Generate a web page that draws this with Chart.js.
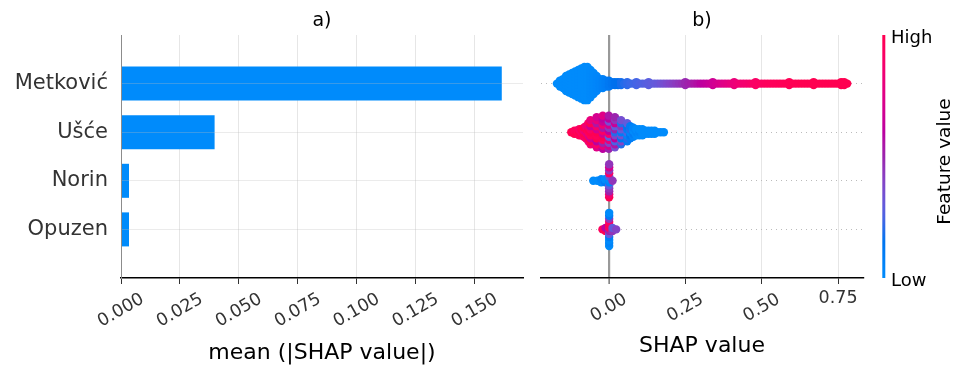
<!DOCTYPE html>
<html>
<head>
<meta charset="utf-8">
<title>SHAP summary</title>
<script src="https://cdn.jsdelivr.net/npm/chart.js@4.4.1/dist/chart.umd.min.js"></script>
<style>
  html, body { margin: 0; padding: 0; background: #fff; }
  #wrap { position: relative; width: 956px; height: 367px; }
  canvas { position: absolute; left: 0; top: 0; }
</style>
</head>
<body>
<div id="wrap">
  <canvas id="bar" width="956" height="367"></canvas>
  <canvas id="swarm" width="956" height="367"></canvas>
</div>
<script>
var FONT = "'DejaVu Sans', 'Liberation Sans', sans-serif";

// a) mean |SHAP| per feature, top to bottom
var features = ['Metković', 'Ušće', 'Norin', 'Opuzen'];
var meanAbsShap = [0.1615, 0.0397, 0.0034, 0.0034];

// b) beeswarm, read off as columns of dots:
//    SHAP value of the column, how many dots are stacked in it, feature value (0 low .. 1 high)
var metkovicX = [-0.17, -0.16, -0.15, -0.14, -0.13, -0.12, -0.11, -0.10, -0.09, -0.08,
  -0.07, -0.06, -0.05, -0.04, -0.03, -0.02, -0.01, 0.00, 0.01, 0.02,
  0.03, 0.04, 0.05, 0.06, 0.07, 0.08, 0.09, 0.10, 0.11, 0.12,
  0.13, 0.14, 0.15, 0.16, 0.17, 0.18, 0.19, 0.20, 0.21, 0.22,
  0.23, 0.24, 0.25, 0.26, 0.27, 0.28, 0.29, 0.30, 0.31, 0.32,
  0.33, 0.34, 0.35, 0.36, 0.37, 0.38, 0.39, 0.40, 0.41, 0.42,
  0.43, 0.44, 0.45, 0.46, 0.47, 0.48, 0.49, 0.50, 0.51, 0.52,
  0.53, 0.54, 0.55, 0.56, 0.57, 0.58, 0.59, 0.60, 0.61, 0.62,
  0.63, 0.64, 0.65, 0.66, 0.67, 0.68, 0.69, 0.70, 0.71, 0.72,
  0.73, 0.74, 0.75, 0.76, 0.77, 0.78];
var metkovicCount = [1, 3, 4, 6, 7, 8, 9, 10, 11, 12,
  12, 10, 8, 6, 4, 4, 3, 3, 2, 2,
  2, 2, 1, 2, 1, 1, 2, 1, 1, 1,
  2, 1, 1, 1, 1, 1, 1, 1, 1, 1,
  1, 1, 2, 1, 1, 1, 1, 1, 1, 1,
  1, 2, 1, 1, 1, 1, 1, 1, 2, 1,
  1, 1, 1, 1, 1, 2, 1, 1, 1, 1,
  1, 1, 1, 1, 1, 1, 2, 1, 1, 1,
  1, 1, 1, 1, 2, 1, 1, 1, 1, 1,
  1, 1, 1, 2, 2, 1];
var metkovicFeature = [0, 0, 0, 0, 0, 0, 0, 0, 0, 0,
  0, 0.01, 0.02, 0.03, 0.05, 0.07, 0.09, 0.12, 0.15, 0.17,
  0.18, 0.19, 0.20, 0.21, 0.22, 0.23, 0.24, 0.25, 0.26, 0.27,
  0.28, 0.29, 0.30, 0.31, 0.33, 0.35, 0.37, 0.39, 0.41, 0.43,
  0.45, 0.47, 0.49, 0.51, 0.53, 0.55, 0.57, 0.59, 0.61, 0.63,
  0.65, 0.67, 0.69, 0.71, 0.73, 0.75, 0.77, 0.79, 0.81, 0.83,
  0.85, 0.86, 0.87, 0.88, 0.90, 0.91, 0.92, 0.93, 0.94, 0.95,
  0.95, 0.96, 0.96, 0.97, 0.97, 0.98, 0.98, 0.99, 0.99, 0.99,
  1, 1, 1, 1, 1, 1, 1, 1, 1, 1,
  1, 1, 1, 1, 1, 1];

var usceX = [-0.123, -0.113, -0.105, -0.097, -0.09, -0.082, -0.075, -0.067, -0.06, -0.04,
  -0.02, 0.0, 0.02, 0.04, 0.06, 0.07, 0.08, 0.09, 0.10, 0.11,
  0.12, 0.13, 0.14, 0.15, 0.16, 0.17, 0.18];
var usceCount = [1, 2, 2, 3, 3, 4, 5, 7, 9, 11,
  12, 12, 11, 9, 7, 5, 4, 3, 3, 3,
  2, 2, 2, 2, 1, 1, 1];
var usceFeature = [
  [1.0],
  [1.0, 0.95],
  [1.0, 0.95],
  [0.95, 1.0, 0.9],
  [1.0, 0.9, 1.0],
  [0.9, 1.0, 0.85, 1.0],
  [0.9, 1.0, 0.8, 1.0, 0.85],
  [0.85, 1.0, 0.75, 0.95, 1.0, 0.8, 0.9],
  [0.85, 1.0, 0.7, 0.95, 1.0, 0.9, 0.65, 1.0, 0.8],
  [0.75, 0.9, 0.6, 1.0, 0.95, 1.0, 0.7, 0.9, 0.55, 0.8, 0.7],
  [0.6, 0.8, 0.5, 0.95, 1.0, 0.7, 0.9, 0.55, 0.85, 0.65, 0.6, 0.75],
  [0.5, 0.7, 0.4, 0.8, 0.3, 0.9, 0.6, 0.45, 0.7, 0.35, 0.6, 0.55],
  [0.35, 0.55, 0.25, 0.6, 0.4, 0.2, 0.5, 0.3, 0.65, 0.45, 0.5],
  [0.2, 0.4, 0.15, 0.35, 0.1, 0.3, 0.45, 0.2, 0.35],
  [0.1, 0.2, 0.05, 0.25, 0.1, 0.15, 0.3],
  [0.1, 0.15, 0.05, 0.2, 0.1],
  [0.05, 0.1, 0.0, 0.05],
  [0.0, 0.05, 0.0],
  [0.0, 0.05, 0.0],
  [0.0, 0.0, 0.0],
  [0.0, 0.0],
  [0.0, 0.0],
  [0.0, 0.0],
  [0.0, 0.0],
  [0.0],
  [0.0],
  [0.0]
];

var norinX = [-0.051, -0.038, -0.025, -0.012, 0.001, 0.012];
var norinCount = [1, 1, 2, 2, 12, 1];
var norinFeature = [0.0, 0.0, [0.0, 0.05], [0.1, 0.0],
  [1.0, 0.85, 0.5, 0.45, 0.3, 0.05, 0.0, 0.3, 0.9, 0.45, 0.7, 0.45], 0.45];

var opuzenX = [-0.021, -0.011, 0.001, 0.012, 0.024];
var opuzenCount = [1, 2, 12, 2, 1];
var opuzenFeature = [0.95, [1.0, 0.6],
  [0.0, 0.05, 0.0, 0.1, 0.3, 0.5, 0.95, 1.0, 0.9, 0.45, 0.1, 0.0], [0.45, 0.3], 0.4];

var flatTickLabels = ['0.75']; // the one label on b)'s axis that is drawn level

var STACK = 0.062; // vertical step between stacked dots, in row units

// shap's red_blue colormap (interpolated in LCH)
function shapColor(t) {
  var L = t < 0.5 ? 54 - 28 * t : 40 + 28 * (t - 0.5);
  var C = 70 + 20 * t;
  var h = 4.6588 + t * (0.35470565 + 2 * Math.PI - 4.6588);
  var a = C * Math.cos(h), b = C * Math.sin(h);
  var fy = (L + 16) / 116, fx = fy + a / 500, fz = fy - b / 200;
  var finv = function(f) { return f > 6 / 29 ? f * f * f : 3 * (6 / 29) * (6 / 29) * (f - 4 / 29); };
  var X = 0.95047 * finv(fx), Y = finv(fy), Z = 1.08883 * finv(fz);
  var lin = [3.2406 * X - 1.5372 * Y - 0.4986 * Z,
             -0.9689 * X + 1.8758 * Y + 0.0415 * Z,
             0.0557 * X - 0.2040 * Y + 1.0570 * Z];
  var rgb = lin.map(function(c) {
    c = Math.max(0, Math.min(1, c));
    return Math.round(255 * (c <= 0.0031308 ? 12.92 * c : 1.055 * Math.pow(c, 1 / 2.4) - 0.055));
  });
  return 'rgb(' + rgb.join(',') + ')';
}

var rows = [
  {x: metkovicX, n: metkovicCount, f: metkovicFeature},
  {x: usceX, n: usceCount, f: usceFeature},
  {x: norinX, n: norinCount, f: norinFeature},
  {x: opuzenX, n: opuzenCount, f: opuzenFeature}
];

// stack the dots of every column around the row's centre line
function swarm(row, y0) {
  var pts = [], cols = [];
  row.x.forEach(function(x, i) {
    var n = row.n[i], f = row.f[i];
    for (var k = 0; k < n; k++) {
      pts.push({x: x, y: y0 + (k - (n - 1) / 2) * STACK});
      cols.push(shapColor(Array.isArray(f) ? f[k % f.length] : f));
    }
  });
  return {pts: pts, cols: cols};
}

function drawXLabels(chart, digits, drop) {
  var sc = chart.scales.x, ctx = chart.ctx, y0 = chart.chartArea.bottom;
  ctx.save();
  ctx.font = '17.5px ' + FONT;
  ctx.fillStyle = '#333';
  ctx.textAlign = 'center';
  ctx.textBaseline = 'middle';
  sc.ticks.forEach(function(t) {
    var label = t.value.toFixed(digits), px = sc.getPixelForValue(t.value);
    ctx.save();
    if (flatTickLabels.indexOf(label) >= 0) {
      ctx.translate(px, y0 + 20);
    } else {
      ctx.translate(px, y0 + drop);
      ctx.rotate(-Math.PI / 6);
    }
    ctx.fillText(label, 0, 0);
    ctx.restore();
  });
  ctx.restore();
}

function drawText(ctx, text, x, y, size, align) {
  ctx.save();
  ctx.font = size + 'px ' + FONT;
  ctx.fillStyle = '#000';
  ctx.textAlign = align || 'center';
  ctx.textBaseline = 'alphabetic';
  ctx.fillText(text, x, y);
  ctx.restore();
}

var panelA = {
  id: 'panelA',
  afterDraw: function(chart) {
    var ca = chart.chartArea, cx = (ca.left + ca.right) / 2;
    drawText(chart.ctx, 'a)', cx, 25.5, 19);
    drawXLabels(chart, 3, 32.5);
    drawText(chart.ctx, 'mean (|SHAP value|)', cx, 359, 22);
  }
};

var panelB = {
  id: 'panelB',
  afterDraw: function(chart) {
    var ca = chart.chartArea, cx = (ca.left + ca.right) / 2, ctx = chart.ctx;
    drawText(ctx, 'b)', cx, 25.5, 19);
    drawXLabels(chart, 2, 30);
    drawText(ctx, 'SHAP value', cx, 351.5, 22);

    // colour bar
    var grad = ctx.createLinearGradient(0, ca.bottom, 0, ca.top);
    for (var i = 0; i <= 20; i++) grad.addColorStop(i / 20, shapColor(i / 20));
    ctx.save();
    ctx.fillStyle = grad;
    ctx.fillRect(882.3, ca.top, 3, ca.bottom - ca.top);
    ctx.restore();
    drawText(ctx, 'High', 891, 42.5, 18, 'left');
    drawText(ctx, 'Low', 891, 286, 18, 'left');
    ctx.save();
    ctx.translate(950, (ca.top + ca.bottom) / 2 + 5);
    ctx.rotate(-Math.PI / 2);
    drawText(ctx, 'Feature value', 0, 0, 18.5);
    ctx.restore();
  }
};

new Chart(document.getElementById('bar'), {
  type: 'bar',
  data: {
    datasets: [{
      data: features.map(function(f, i) { return {x: meanAbsShap[i], y: 3 - i}; }),
      backgroundColor: '#008bfb',
      borderWidth: 0,
      categoryPercentage: 1,
      barPercentage: 0.7
    }]
  },
  options: {
    indexAxis: 'y',
    responsive: false,
    animation: false,
    events: [],
    layout: {padding: {left: 0, right: 433, top: 35, bottom: 89}},
    plugins: {legend: {display: false}, tooltip: {enabled: false}},
    scales: {
      x: {
        type: 'linear', min: 0, max: 0.1705,
        afterFit: function(s) { s.height = 0; },
        ticks: {display: false, stepSize: 0.025, includeBounds: false},
        grid: {
          color: function(c) { return c.tick && c.tick.value === 0 ? 'rgba(0,0,0,0)' : '#e6e6e6'; },
          lineWidth: 1, tickLength: 6, tickColor: '#333', tickWidth: 1
        },
        border: {color: '#000', width: 1.5}
      },
      y: {
        type: 'linear', min: -1, max: 4, offset: false,
        afterFit: function(s) { s.width = 121; },
        ticks: {
          stepSize: 1, autoSkip: false, padding: 13, color: '#333',
          font: {family: FONT, size: 21},
          callback: function(v) { return features[3 - v] || ''; }
        },
        grid: {
          offset: false, drawTicks: false, z: 1, lineWidth: 1,
          color: function(c) { return c.tick && c.tick.value >= 0 && c.tick.value <= 3 ? 'rgba(190,190,190,0.3)' : 'rgba(0,0,0,0)'; }
        },
        border: {color: '#8c8c8c', width: 1, z: 2}
      }
    }
  },
  plugins: [panelA]
});

new Chart(document.getElementById('swarm'), {
  type: 'scatter',
  data: {
    datasets: rows.map(function(r, i) {
      var s = swarm(r, 3 - i);
      return {data: s.pts, pointBackgroundColor: s.cols, pointBorderWidth: 0, pointRadius: 4.2};
    })
  },
  options: {
    responsive: false,
    animation: false,
    events: [],
    layout: {padding: {left: 541, right: 93, top: 35, bottom: 89}},
    plugins: {legend: {display: false}, tooltip: {enabled: false}},
    scales: {
      x: {
        type: 'linear', min: -0.222, max: 0.8315,
        afterFit: function(s) { s.height = 0; },
        ticks: {display: false, stepSize: 0.25, includeBounds: false},
        grid: {
          color: function(c) { return c.tick && c.tick.value === 0 ? '#999999' : '#e6e6e6'; },
          lineWidth: function(c) { return c.tick && c.tick.value === 0 ? 2.2 : 1; },
          tickLength: 6, tickColor: '#333', tickWidth: 1
        },
        border: {color: '#000', width: 1.5}
      },
      y: {
        type: 'linear', min: -1, max: 4,
        afterFit: function(s) { s.width = 0; },
        ticks: {display: false, stepSize: 1},
        grid: {
          drawTicks: false, lineWidth: 1, borderDash: [1, 4],
          color: function(c) { return c.tick && c.tick.value >= 0 && c.tick.value <= 3 ? '#bbbbbb' : 'rgba(0,0,0,0)'; }
        },
        border: {display: false, dash: [1, 4]}
      }
    }
  },
  plugins: [panelB]
});
</script>
</body>
</html>
